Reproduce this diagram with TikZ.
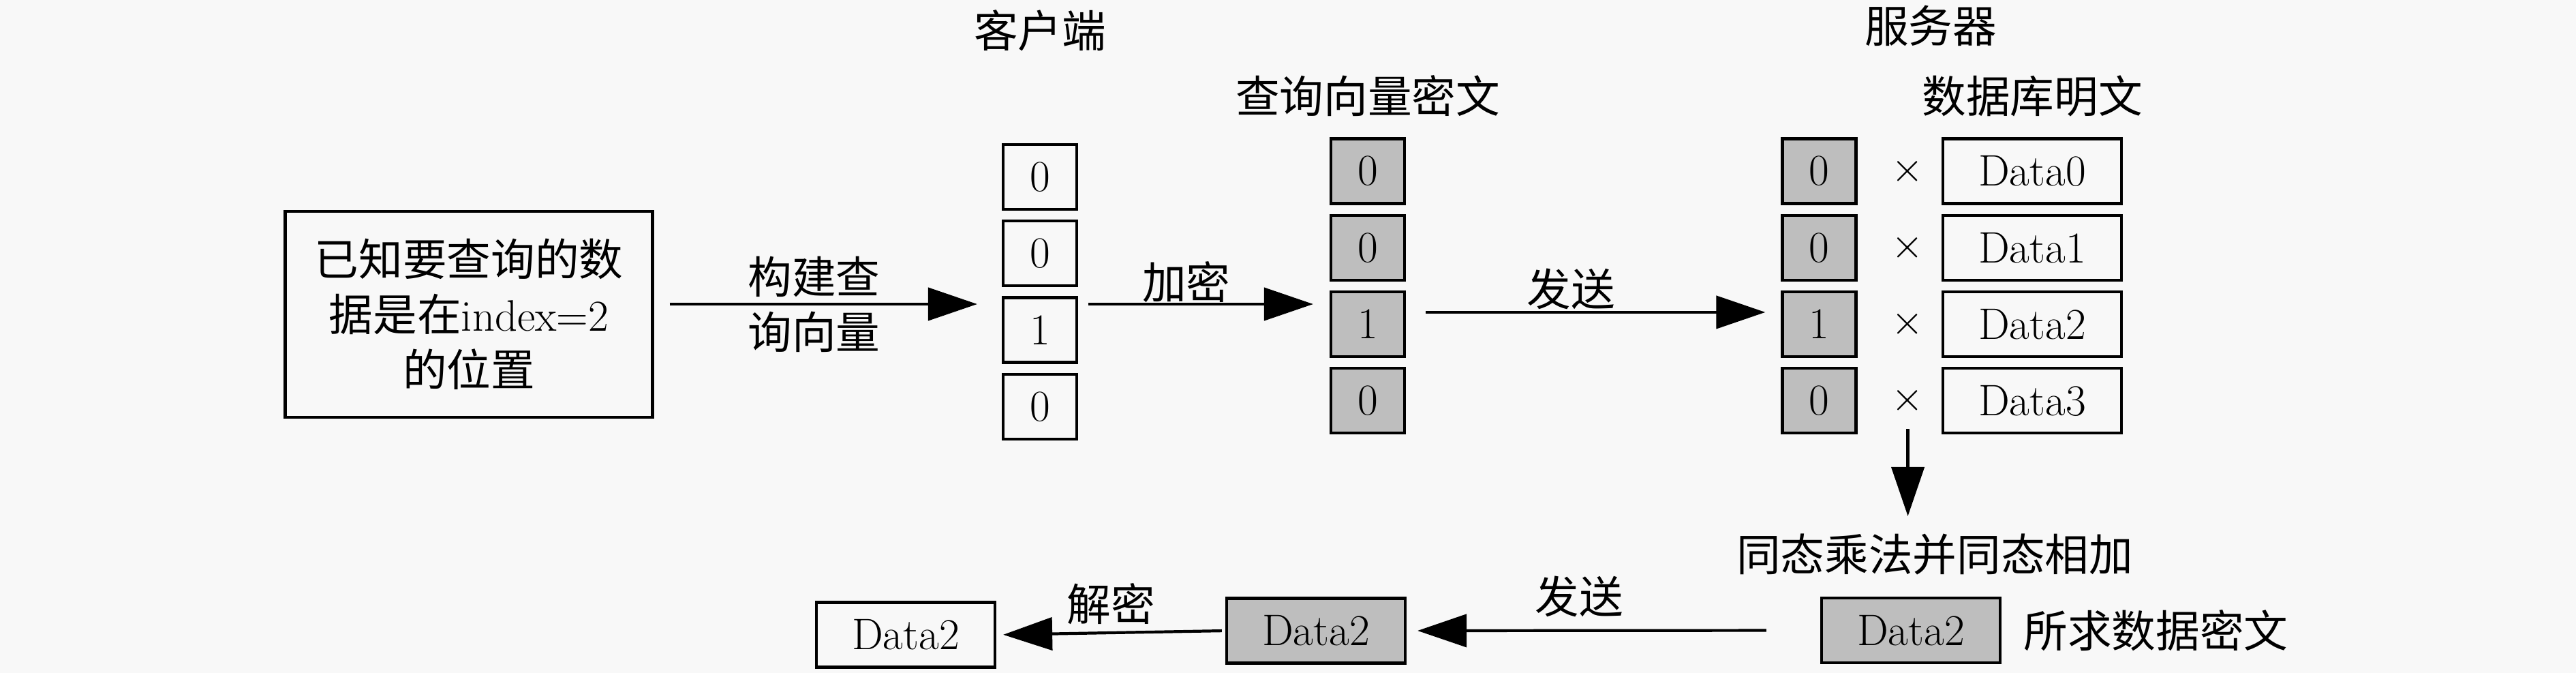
\documentclass[tikz,border=0pt]{standalone}
\usepackage{fontspec}
\newfontfamily\cjk{Noto Sans CJK SC}
\usepackage{tikz}
\usetikzlibrary{positioning}
\usetikzlibrary{calc}
\usetikzlibrary{arrows.meta}
\definecolor{cipher}{RGB}{190,190,190}
\definecolor{paper}{RGB}{248,248,248}
\tikzset{
  cell/.style={draw, line width=1.2pt, minimum width=1.08cm, minimum height=0.95cm, inner sep=0pt},
  ccell/.style={cell, fill=cipher},
  dbox/.style={cell, minimum width=2.62cm},
}

\begin{document}
\begin{tikzpicture}[every node/.style={font=\fontsize{18.4pt}{23pt}\selectfont}, >={Triangle[length=7.2mm,width=4.8mm]}]
      \useasboundingbox (0,0) rectangle (37.8,-9.87);
      \fill[paper] (0,0) rectangle (37.8,-9.87);
      \node[draw, line width=1.2pt, minimum width=5.39cm, minimum height=3.02cm, align=center] (known) at (6.88,-4.61) {{\cjk 已知要查询的数}\\{\cjk 据是在}index=2\\{\cjk 的位置}};
      % client side
      \node (client) at (15.26,-0.45) {\cjk 客户端};
      \node[cell] (c1) at (15.26,-2.595) {0};
      \node[cell, below=0.13 of c1] (c2) {0};
      \node[cell, below=0.13 of c2] (c3) {1};
      \node[cell, below=0.13 of c3] (c4) {0};
      \node (enctitle) at (20.07,-1.41) {\cjk 查询向量密文};
      \node[ccell] (e1) at (20.07,-2.51) {0};
      \node[ccell, below=0.13 of e1] (e2) {0};
      \node[ccell, below=0.13 of e2] (e3) {1};
      \node[ccell, below=0.13 of e3] (e4) {0};
      % server side
      \node (server) at (28.33,-0.38) {\cjk 服务器};
      \node (dbtitle) at (29.82,-1.41) {\cjk 数据库明文};
      \node[ccell] (s1) at (26.695,-2.51) {0};
      \node[ccell, below=0.13 of s1] (s2) {0};
      \node[ccell, below=0.13 of s2] (s3) {1};
      \node[ccell, below=0.13 of s3] (s4) {0};
      \node[dbox] (d1) at (29.82,-2.51) {Data0};
      \node[dbox, below=0.13 of d1] (d2) {Data1};
      \node[dbox, below=0.13 of d2] (d3) {Data2};
      \node[dbox, below=0.13 of d3] (d4) {Data3};
      \node (x1) at ($(s1.east)!0.6!(d1.west)$) {$\times$};
      \node (x2) at ($(s2.east)!0.6!(d2.west)$) {$\times$};
      \node (x3) at ($(s3.east)!0.6!(d3.west)$) {$\times$};
      \node (x4) at ($(s4.east)!0.6!(d4.west)$) {$\times$};
      \node (op) at (28.39,-8.13) {\cjk 同态乘法并同态相加};
      % result row
      \node[dbox, fill=cipher] (res) at (28.04,-9.245) {Data2};
      \node[right=0.2 of res] (reslabel) {\cjk 所求数据密文};
      \node[dbox, fill=cipher] (mid) at (19.31,-9.25) {Data2};
      \node[dbox] (plain) at (13.29,-9.31) {Data2};
      \coordinate (q1) at ([yshift=1.5mm]known.east);
      \draw [->, line width=1.2pt, shorten <=2.3mm, shorten >=3.6mm] (q1) -- (q1 -| c3.west) node[pos=0.46, align=center] {{\cjk 构建查}\\{\cjk 询向量}};
      \draw [->, line width=1.2pt, shorten <=1.5mm, shorten >=2.4mm] (q1 -| c3.east) -- (q1 -| e3.west) node[pos=0.43, above=-1.2mm] {\cjk 加密};
      \draw [->, line width=1.2pt, shorten <=2.9mm, shorten >=2.3mm] ([yshift=1.75mm]e3.east) -- ([yshift=1.75mm]s3.west) node[pos=0.44, above=-1mm] {\cjk 发送};
      \draw [->, line width=1.2pt, shorten <=0.9mm, shorten >=1.35mm] (x4) -- (x4 |- op.north);
      \draw [->, line width=1.2pt, shorten <=7.9mm, shorten >=1.6mm] (res.west) -- (mid.east) node[pos=0.583, above=0.6mm] {\cjk 发送};
      \draw [->, line width=1.2pt, shorten <=0.5mm, shorten >=1mm] (mid.west) -- (plain.east) node[midway, above=-0.2mm] {\cjk 解密};
\end{tikzpicture}
\end{document}
